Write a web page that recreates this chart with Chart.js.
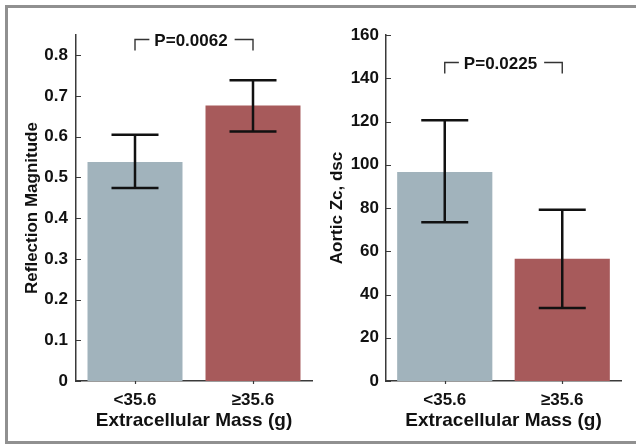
<!DOCTYPE html>
<html>
<head>
<meta charset="utf-8">
<script src="https://cdn.jsdelivr.net/npm/chart.js@4"></script>
<style>
html, body { margin: 0; padding: 0; background: #fff; overflow: hidden; }
#wrap { position: relative; width: 636px; height: 445px; overflow: hidden; }
#frame { position: absolute; left: 5px; top: 5px; width: 680px; height: 433px; border: 3px solid #909090; }
.box { position: absolute; top: 0; width: 318px; height: 445px; }
</style>
</head>
<body>
<div id="wrap">
  <div id="frame"></div>
  <div class="box" style="left:0"><canvas id="leftChart" width="318" height="445"></canvas></div>
  <div class="box" style="left:318px"><canvas id="rightChart" width="318" height="445"></canvas></div>
</div>
<script>
// data
const categories = ['<35.6', '≥35.6'];
const barColors = ['#a1b3bc', '#a75a5b'];

const reflectionMean = [0.538, 0.677];
const reflectionLow = [0.474, 0.613];
const reflectionHigh = [0.605, 0.739];

const zcMean = [96.7, 56.5];
const zcLow = [73.4, 33.7];
const zcHigh = [120.6, 79.2];

const pLabels = ['P=0.0062', 'P=0.0225'];
const pLevels = [0.841, 147.3];

const FONT = '"Liberation Sans", Arial, Helvetica, sans-serif';

// error bars, inward y ticks and the P bracket
const errorBarPlugin = {
    id: 'errorBars',
    afterDatasetsDraw(chart, args, opts) {
        const ctx = chart.ctx;
        const y = chart.scales.y;
        const area = chart.chartArea;
        const bars = chart.getDatasetMeta(0).data;
        ctx.save();

        // y ticks pointing into the plot
        ctx.strokeStyle = '#3a3a3a';
        ctx.lineWidth = 1.2;
        ctx.beginPath();
        y.ticks.forEach(t => {
            const py = Math.round(y.getPixelForValue(t.value)) + 0.5;
            ctx.moveTo(area.left, py);
            ctx.lineTo(area.left + 5, py);
        });
        // small ticks under the x axis
        bars.forEach(b => {
            ctx.moveTo(Math.round(b.x) + 0.5, area.bottom);
            ctx.lineTo(Math.round(b.x) + 0.5, area.bottom + 3);
        });
        ctx.stroke();

        // error bars
        ctx.strokeStyle = '#111';
        ctx.lineWidth = 2.5;
        ctx.beginPath();
        bars.forEach((b, i) => {
            const yl = y.getPixelForValue(opts.low[i]);
            const yh = y.getPixelForValue(opts.high[i]);
            ctx.moveTo(b.x, yl); ctx.lineTo(b.x, yh);
            ctx.moveTo(b.x - 23.5, yh); ctx.lineTo(b.x + 23.5, yh);
            ctx.moveTo(b.x - 23.5, yl); ctx.lineTo(b.x + 23.5, yl);
        });
        ctx.stroke();

        // significance bracket
        const x1 = bars[0].x, x2 = bars[1].x;
        const top = Math.round(y.getPixelForValue(opts.level)) + 0.5;
        const mid = (x1 + x2) / 2 - 3;
        ctx.font = 'bold 17px ' + FONT;
        const w = ctx.measureText(opts.text).width;
        ctx.strokeStyle = '#333';
        ctx.lineWidth = 1.4;
        ctx.beginPath();
        ctx.moveTo(x1, top + 11); ctx.lineTo(x1, top); ctx.lineTo(mid - w / 2 - 5, top);
        ctx.moveTo(mid + w / 2 + 7, top); ctx.lineTo(x2, top); ctx.lineTo(x2, top + 11);
        ctx.stroke();
        ctx.fillStyle = '#111';
        ctx.textAlign = 'center';
        ctx.textBaseline = 'middle';
        ctx.fillText(opts.text, mid, top + 2);
        ctx.restore();
    }
};

function makeChart(id, values, low, high, yTitle, yMax, yStep, pText, pLevel, dims) {
    return new Chart(document.getElementById(id), {
        type: 'bar',
        data: {
            labels: categories,
            datasets: [{
                data: values,
                backgroundColor: barColors,
                borderWidth: 0,
                barPercentage: dims.barPct,
                categoryPercentage: 1
            }]
        },
        options: {
            responsive: false,
            animation: false,
            devicePixelRatio: 1,
            layout: { padding: { left: 0, top: 35, right: dims.padRight, bottom: 0 } },
            plugins: {
                legend: { display: false },
                tooltip: { enabled: false },
                errorBars: { low: low, high: high, text: pText, level: pLevel }
            },
            scales: {
                x: {
                    grid: { display: false, drawTicks: false },
                    border: { display: true, color: '#3a3a3a', width: 1.5 },
                    ticks: { color: '#111', padding: 9, font: { family: FONT, size: 17, weight: 'bold' } },
                    title: {
                        display: true, text: 'Extracellular Mass (g)', color: '#111',
                        font: { family: FONT, size: 19, weight: 'bold' },
                        padding: { top: 0, bottom: 13 }
                    },
                    afterFit(s) { s.height = 64; }
                },
                y: {
                    min: 0, max: yMax,
                    grid: { display: false, drawTicks: false },
                    border: { display: true, color: '#3a3a3a', width: 1.5 },
                    ticks: {
                        stepSize: yStep, includeBounds: false, color: '#111', padding: dims.tickPad,
                        font: { family: FONT, size: 17, weight: 'bold' },
                        callback: v => dims.decimals ? (v === 0 ? '0' : v.toFixed(dims.decimals)) : String(Math.round(v))
                    },
                    title: {
                        display: true, text: yTitle, color: '#111',
                        font: { family: FONT, size: 17, weight: 'bold' },
                        padding: { top: dims.titlePad, bottom: 0 }
                    },
                    afterFit(s) { s.width = dims.yWidth; }
                }
            }
        },
        plugins: [errorBarPlugin]
    });
}

makeChart('leftChart', reflectionMean, reflectionLow, reflectionHigh,
    'Reflection Magnitude', 0.85, 0.1, pLabels[0], pLevels[0],
    { yWidth: 76, padRight: 6, titlePad: 22, tickPad: 8, decimals: 1, barPct: 0.805 });

makeChart('rightChart', zcMean, zcLow, zcHigh,
    'Aortic Zc, dsc', 160, 20, pLabels[1], pLevels[1],
    { yWidth: 68, padRight: 15, titlePad: 9, tickPad: 7, decimals: 0, barPct: 0.81 });
</script>
</body>
</html>
